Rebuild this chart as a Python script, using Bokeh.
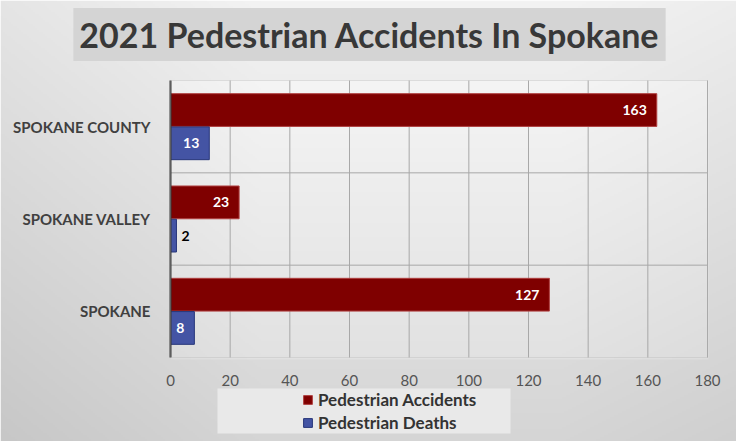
import numpy as np
from bokeh.plotting import figure
from bokeh.models import (FixedTicker, ColumnDataSource, Legend, LegendItem,
                          Range1d, Label, BoxAnnotation)
from bokeh.core.properties import value
from bokeh.embed import file_html
from bokeh.resources import INLINE

# ---- data ----
categories = ["SPOKANE", "SPOKANE VALLEY", "SPOKANE COUNTY"]  # bottom to top
accidents = [127, 23, 163]
deaths = [8, 2, 13]
series_names = ["Pedestrian Accidents", "Pedestrian Deaths"]
x_ticks = [0, 20, 40, 60, 80, 100, 120, 140, 160, 180]
title_text = "2021 Pedestrian Accidents In Spokane"

# ---- layout / style ----
W, H = 736, 441
PL, PR, PT, PB = 170, 707, 80, 357          # plot-area edges in canvas pixels
FONT = "Lato"
ACC_COLOR = "#7f0000"
DEA_COLOR = "#4454a4"

n_cat = len(categories)
x_lo, x_hi = x_ticks[0], x_ticks[-1]
kx = (PR - PL) / (x_hi - x_lo)
ky = (PB - PT) / n_cat


def sx(px):  # canvas px -> data x
    return x_lo + (px - PL) / kx


def sy(py):  # canvas py -> data y
    return (PB - py) / ky


centers = [i + 0.5 for i in range(n_cat)]
bar_h = 0.355
dodge = 0.18


def label_cols(vals):
    inside = [v > 5 for v in vals]
    return dict(
        txt=[str(v) for v in vals],
        align=["right" if i else "left" for i in inside],
        xoff=[-10 if i else 5 for i in inside],
        col=["white" if i else "black" for i in inside],
    )


acc_src = ColumnDataSource(dict(y=[c + dodge for c in centers], v=accidents, **label_cols(accidents)))
dea_src = ColumnDataSource(dict(y=[c - dodge for c in centers], v=deaths, **label_cols(deaths)))

p = figure(width=W, height=H, output_backend="svg", toolbar_location=None,
           x_range=Range1d(sx(0), sx(W)), y_range=Range1d(sy(H), sy(0)),
           min_border=0, min_border_left=0, min_border_right=0,
           min_border_top=0, min_border_bottom=0)
p.outline_line_color = None
p.grid.visible = False

# background gradient (decoration)
gh, gw = H // 2, W // 2
yy, xx = np.mgrid[0:gh, 0:gw]
ypx = (gh - 1 - yy) * 2.0   # image row 0 is bottom
xpx = xx * 2.0
lum = 243 - 30 * (ypx / H) - 14 * np.clip(1 - xpx / 260, 0, 1) - 6 * np.clip((xpx - 560) / 176, 0, 1)
inside = (xpx >= PL) & (xpx <= PR) & (ypx >= PT) & (ypx <= PB)
lum = np.where(inside, lum + 7, lum)
lum = np.clip(lum, 0, 255).astype(np.uint32)
img = (255 << 24) | (lum << 16) | (lum << 8) | lum
p.image_rgba(image=[img.astype(np.uint32)], x=sx(0), y=sy(H), dw=sx(W) - sx(0), dh=sy(0) - sy(H),
             level="image")

# legend background box
p.add_layout(BoxAnnotation(left=sx(217), right=sx(510), top=sy(388), bottom=sy(433),
                           fill_color="#e9e9e9", fill_alpha=1, line_color=None, level="underlay"))

# grid lines
vx = x_ticks[1:]
p.segment(x0=vx, y0=[0] * len(vx), x1=vx, y1=[n_cat] * len(vx), line_color="#a8a8a8", line_width=1)
hy = list(range(1, n_cat))
p.segment(x0=[x_lo] * len(hy), y0=hy, x1=[x_hi] * len(hy), y1=hy, line_color="#a8a8a8", line_width=1)
p.add_layout(BoxAnnotation(left=x_lo, right=x_hi, bottom=0, top=n_cat, fill_alpha=0,
                           line_color="#b0b0b0", line_width=1))

r_acc = p.hbar(y="y", right="v", left=0, height=bar_h, source=acc_src,
               fill_color=ACC_COLOR, line_color="#b04040", line_width=1)
r_dea = p.hbar(y="y", right="v", left=0, height=bar_h, source=dea_src,
               fill_color=DEA_COLOR, line_color="#27367a", line_width=1)

for src in (acc_src, dea_src):
    p.text(x="v", y="y", text="txt", source=src, text_align="align", x_offset="xoff",
           text_baseline="middle", text_color="col", text_font=value(FONT),
           text_font_style="bold", text_font_size="14px")

# axes (placed at the plot-area edges)
p.xaxis.fixed_location = 0
p.xaxis.bounds = (x_lo, x_hi)
p.xaxis.ticker = FixedTicker(ticks=x_ticks)
p.xaxis.major_tick_line_color = None
p.xaxis.minor_tick_line_color = None
p.xaxis.axis_line_color = None
p.xaxis.major_label_standoff = 11
p.xaxis.major_label_text_font = FONT
p.xaxis.major_label_text_font_size = "15px"
p.xaxis.major_label_text_color = "#555555"

p.yaxis.fixed_location = x_lo
p.yaxis.bounds = (0, n_cat)
p.yaxis.ticker = FixedTicker(ticks=centers)
p.yaxis.major_label_overrides = {c: cat for c, cat in zip(centers, categories)}
p.yaxis.major_tick_line_color = None
p.yaxis.minor_tick_line_color = None
p.yaxis.axis_line_color = "#3a3a3a"
p.yaxis.axis_line_width = 2
p.yaxis.major_label_standoff = 14
p.yaxis.major_label_text_font = FONT
p.yaxis.major_label_text_font_style = "bold"
p.yaxis.major_label_text_font_size = "15px"
p.yaxis.major_label_text_color = "#404040"

legend = Legend(items=[LegendItem(label=series_names[0], renderers=[r_acc]),
                       LegendItem(label=series_names[1], renderers=[r_dea])],
                location=(302, 8), padding=0, margin=0, spacing=2,
                glyph_width=11, glyph_height=11, label_standoff=5, label_height=21,
                border_line_color=None, background_fill_alpha=0,
                label_text_font=FONT, label_text_font_style="bold",
                label_text_font_size="17px", label_text_color="#333333")
p.add_layout(legend, "center")

p.add_layout(Label(x=sx(369), y=sy(34), text=title_text,
                   text_align="center", text_baseline="middle",
                   text_font=FONT, text_font_style="bold", text_font_size="34px",
                   text_color="#383838", background_fill_color="#d4d4d4",
                   padding=6))

open("out.html", "w").write(file_html(p, INLINE))
